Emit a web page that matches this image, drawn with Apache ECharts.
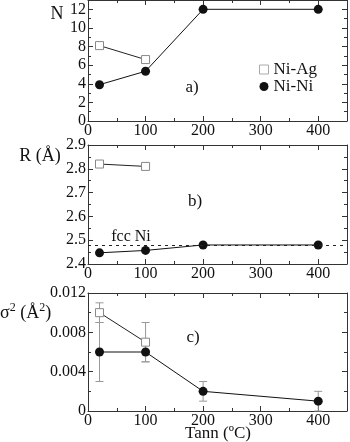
<!DOCTYPE html>
<html>
<head>
<meta charset="utf-8">
<script src="https://cdn.jsdelivr.net/npm/echarts@6/dist/echarts.min.js"></script>
<style>
  html, body { margin: 0; padding: 0; background: #fff; }
  #chart { width: 350px; height: 442px; }
</style>
</head>
<body>
<div id="chart"></div>
<script>
// annealing temperatures (ºC)
const tannNi = [20, 100, 200, 400];
const tannAg = [20, 100];

// a) coordination numbers
const nAg = [8.1, 6.6];
const nNi = [3.9, 5.35, 12, 12];

// b) distances (Å)
const rAg = [2.82, 2.81];
const rNi = [2.447, 2.457, 2.48, 2.48];
const fccNi = 2.484;

// c) Debye-Waller factors and their errors
const s2Ag = [0.010, 0.007];
const s2AgErr = [0.001, 0.002];
const s2Ni = [0.006, 0.006, 0.002, 0.001];
const s2NiErr = [0.003, 0.001, 0.001, 0.001];

const serif = 'Liberation Serif';
const axisColor = '#333';

function zip(xs, ys) {
  return xs.map((x, i) => [x, ys[i]]);
}

function errData(xs, ys, errs) {
  return xs.map((x, i) => [x, ys[i], ys[i] - errs[i], ys[i] + errs[i]]);
}

// shared axis look: inside ticks, minor ticks, no grid lines
function baseAxis(extra) {
  return Object.assign({
    type: 'value',
    axisLine: { onZero: false, lineStyle: { color: axisColor, width: 1 } },
    axisTick: { inside: true, length: 5, lineStyle: { color: axisColor } },
    minorTick: { show: true, splitNumber: 2, length: 3, lineStyle: { color: axisColor } },
    splitLine: { show: false },
    minorSplitLine: { show: false }
  }, extra);
}

function xAxisFor(gridIndex, position) {
  return baseAxis({
    gridIndex: gridIndex,
    position: position,
    min: 0,
    max: 450,
    interval: 100,
    axisLabel: {
      show: position === 'bottom',
      fontFamily: serif,
      fontSize: 16,
      color: '#111',
      margin: 2,
      formatter: v => (v === 450 ? '' : String(v))
    }
  });
}

const yRanges = [
  { min: 0, max: 13, interval: 2, fmt: v => (v === 13 ? '' : String(v)) },
  { min: 2.4, max: 2.9, interval: 0.1, fmt: v => v.toFixed(1) },
  { min: 0, max: 0.012, interval: 0.004, fmt: v => (v === 0 ? '0' : v.toFixed(3)) }
];

function yAxisFor(gridIndex, position) {
  const r = yRanges[gridIndex];
  return baseAxis({
    gridIndex: gridIndex,
    position: position,
    min: r.min,
    max: r.max,
    interval: r.interval,
    axisLabel: {
      show: position === 'left',
      fontFamily: serif,
      fontSize: 16,
      color: '#111',
      margin: 2,
      formatter: r.fmt
    }
  });
}

const agStyle = {
  symbol: 'rect',
  symbolSize: 8,
  itemStyle: { color: '#fff', borderColor: '#888', borderWidth: 1 },
  lineStyle: { color: '#222', width: 1 }
};
const niStyle = {
  symbol: 'circle',
  symbolSize: 9,
  itemStyle: { color: '#111' },
  lineStyle: { color: '#111', width: 1 }
};

function lineSeries(name, idx, data, style, extra) {
  return Object.assign({
    name: name,
    type: 'line',
    xAxisIndex: idx,
    yAxisIndex: idx,
    data: data,
    z: 3,
    animation: false
  }, style, extra || {});
}

function errorSeries(data) {
  return {
    type: 'custom',
    xAxisIndex: 2,
    yAxisIndex: 2,
    z: 1,
    silent: true,
    animation: false,
    encode: { x: 0, y: [2, 3] },
    data: data,
    renderItem: function(params, api) {
      const lo = api.coord([api.value(0), api.value(2)]);
      const hi = api.coord([api.value(0), api.value(3)]);
      const cap = 4;
      const style = { stroke: '#999', lineWidth: 1 };
      return {
        type: 'group',
        children: [
          { type: 'line', shape: { x1: lo[0], y1: lo[1], x2: hi[0], y2: hi[1] }, style: style },
          { type: 'line', shape: { x1: lo[0] - cap, y1: lo[1], x2: lo[0] + cap, y2: lo[1] }, style: style },
          { type: 'line', shape: { x1: hi[0] - cap, y1: hi[1], x2: hi[0] + cap, y2: hi[1] }, style: style }
        ]
      };
    }
  };
}

function label(text, x, y, size, align) {
  return {
    type: 'text',
    x: x,
    y: y,
    silent: true,
    style: {
      text: text,
      fontFamily: serif,
      fontSize: size,
      fill: '#111',
      align: align || 'center',
      verticalAlign: 'middle'
    }
  };
}

const chart = echarts.init(document.getElementById('chart'));

const option = {
  animation: false,
  backgroundColor: '#fff',
  textStyle: { fontFamily: serif },
  grid: [
    { left: 88, top: 0, width: 259, height: 121 },
    { left: 88, top: 145, width: 259, height: 119 },
    { left: 88, top: 293, width: 259, height: 118 }
  ],
  xAxis: [
    xAxisFor(0, 'bottom'), xAxisFor(1, 'bottom'), xAxisFor(2, 'bottom'),
    xAxisFor(0, 'top'), xAxisFor(1, 'top'), xAxisFor(2, 'top')
  ],
  yAxis: [
    yAxisFor(0, 'left'), yAxisFor(1, 'left'), yAxisFor(2, 'left'),
    yAxisFor(0, 'right'), yAxisFor(1, 'right'), yAxisFor(2, 'right')
  ],
  legend: {
    orient: 'vertical',
    left: 254,
    top: 56,
    itemWidth: 9,
    itemHeight: 9,
    itemGap: 0,
    textStyle: { fontFamily: serif, fontSize: 17, color: '#111' },
    data: [
      { name: 'Ni-Ag', icon: 'rect', itemStyle: { color: '#fff', borderColor: '#aaa', borderWidth: 1 } },
      { name: 'Ni-Ni', icon: 'circle', itemStyle: { color: '#111' } }
    ]
  },
  series: [
    lineSeries('Ni-Ag', 0, zip(tannAg, nAg), agStyle),
    lineSeries('Ni-Ni', 0, zip(tannNi, nNi), niStyle),
    lineSeries('Ni-Ag', 1, zip(tannAg, rAg), agStyle),
    lineSeries('Ni-Ni', 1, zip(tannNi, rNi), niStyle, {
      markLine: {
        silent: true,
        symbol: 'none',
        label: { show: false },
        lineStyle: { color: '#222', type: [3, 4], width: 1 },
        data: [{ yAxis: fccNi }]
      }
    }),
    errorSeries(errData(tannAg, s2Ag, s2AgErr)),
    errorSeries(errData(tannNi, s2Ni, s2NiErr)),
    lineSeries('Ni-Ag', 2, zip(tannAg, s2Ag), agStyle),
    lineSeries('Ni-Ni', 2, zip(tannNi, s2Ni), niStyle)
  ],
  graphic: [
    label('N', 57, 14, 18),
    label('R (Å)', 40, 156, 18),
    {
      type: 'text',
      x: 0,
      y: 302,
      silent: true,
      style: {
        text: '{m|σ}{s|2}{m| (Å}{s|2}{m|)}',
        fontFamily: serif,
        fill: '#111',
        rich: {
          m: { fontFamily: serif, fontSize: 18, lineHeight: 20, verticalAlign: 'bottom', fill: '#111' },
          s: { fontFamily: serif, fontSize: 12, lineHeight: 20, verticalAlign: 'top', fill: '#111' }
        }
      }
    },
    label('a)', 192, 88, 17),
    label('b)', 195, 202, 17),
    label('c)', 193, 338, 17),
    label('fcc Ni', 131, 237, 16),
    label('Tann (ºC)', 218, 434, 17)
  ]
};

chart.setOption(option);
</script>
</body>
</html>
